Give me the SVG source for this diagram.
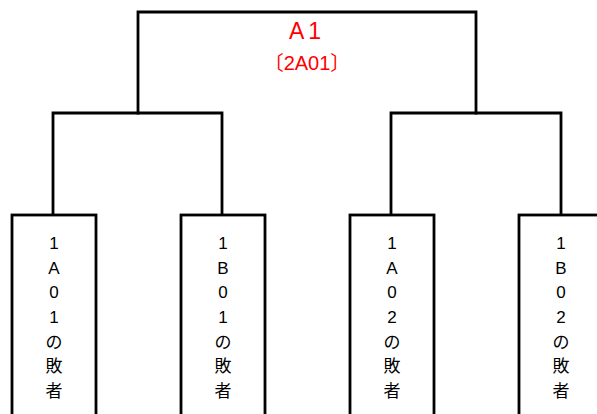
<svg xmlns="http://www.w3.org/2000/svg" width="597" height="414" viewBox="0 0 597 414">
<style>
.ln{fill:none;stroke:#000;stroke-width:2.8;stroke-linecap:square}
.bx{fill:#fff;stroke:#000;stroke-width:2.8}
.t{font-family:"Liberation Sans","Noto Sans CJK JP",sans-serif;font-size:17px;fill:#000;text-anchor:middle}
.r{font-family:"Liberation Sans","Noto Sans CJK JP",sans-serif;fill:#f00;text-anchor:middle}
</style>
<rect width="597" height="414" fill="#fff"/>
<g id="connectors">
<path class="ln" d="M138,113 V12 H476 V113"/>
<path class="ln" d="M53,215 V113 H222 V215"/>
<path class="ln" d="M391,215 V113 H561 V215"/>
</g>
<g id="A1">
<text class="r" x="307" y="39" font-size="23" letter-spacing="4">A1</text>
<text class="r" x="307" y="70" font-size="20">〔2A01〕</text>
</g>
<g id="n1">
<rect class="bx" x="12" y="215" width="84" height="210"/>
<text class="t"><tspan x="54" y="249">1</tspan><tspan x="54" y="274">A</tspan><tspan x="54" y="298">0</tspan><tspan x="54" y="323">1</tspan><tspan x="54" y="348">の</tspan><tspan x="54" y="372">敗</tspan><tspan x="54" y="397">者</tspan></text>
</g>
<g id="n2">
<rect class="bx" x="181" y="215" width="84" height="210"/>
<text class="t"><tspan x="223" y="249">1</tspan><tspan x="223" y="274">B</tspan><tspan x="223" y="298">0</tspan><tspan x="223" y="323">1</tspan><tspan x="223" y="348">の</tspan><tspan x="223" y="372">敗</tspan><tspan x="223" y="397">者</tspan></text>
</g>
<g id="n3">
<rect class="bx" x="350" y="215" width="84" height="210"/>
<text class="t"><tspan x="392" y="249">1</tspan><tspan x="392" y="274">A</tspan><tspan x="392" y="298">0</tspan><tspan x="392" y="323">2</tspan><tspan x="392" y="348">の</tspan><tspan x="392" y="372">敗</tspan><tspan x="392" y="397">者</tspan></text>
</g>
<g id="n4">
<rect class="bx" x="519" y="215" width="84" height="210"/>
<text class="t"><tspan x="561" y="249">1</tspan><tspan x="561" y="274">B</tspan><tspan x="561" y="298">0</tspan><tspan x="561" y="323">2</tspan><tspan x="561" y="348">の</tspan><tspan x="561" y="372">敗</tspan><tspan x="561" y="397">者</tspan></text>
</g>
</svg>
